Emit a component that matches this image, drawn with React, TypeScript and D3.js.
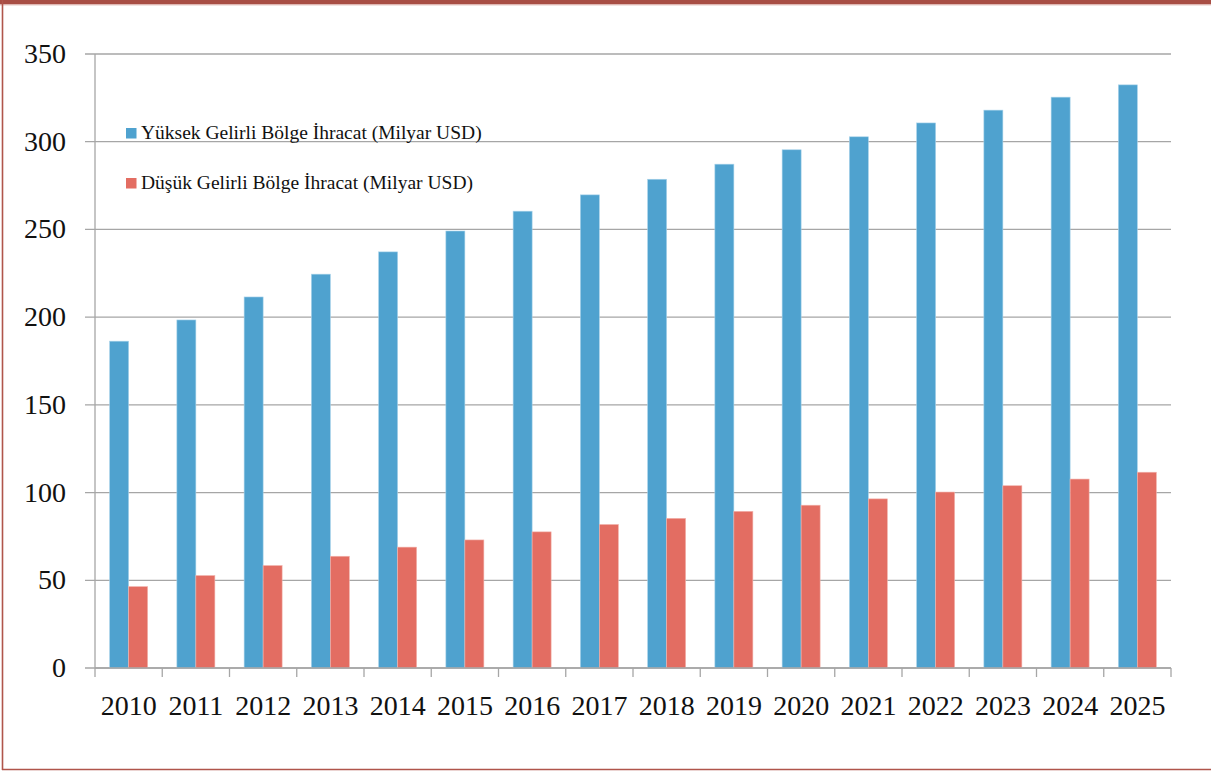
import React from "react";
import * as d3 from "d3";

const years = ["2010","2011","2012","2013","2014","2015","2016","2017","2018","2019","2020","2021","2022","2023","2024","2025"];
const highIncome = [186.3, 198.4, 211.5, 224.5, 237.2, 249.1, 260.4, 269.7, 278.6, 287.2, 295.4, 302.8, 310.7, 318.0, 325.4, 332.4];
const lowIncome = [46.4, 52.7, 58.4, 63.7, 68.9, 73.0, 77.6, 81.8, 85.3, 89.3, 92.8, 96.4, 100.3, 103.9, 107.7, 111.6];
const seriesNames = ["Yüksek Gelirli Bölge İhracat (Milyar USD)", "Düşük Gelirli Bölge İhracat (Milyar USD)"];
const yTicks = [0, 50, 100, 150, 200, 250, 300, 350];

const W = 1211, H = 771;
const colors = ["#4fa2cf", "#e36d62"];
const font = "'Liberation Serif', 'Times New Roman', serif";

export default function App() {
  const left = 95, right = 1171, top = 54, bottom = 668;
  const x = d3.scaleBand<string>().domain(years).range([left, right]).paddingInner(0).paddingOuter(0);
  const y = d3.scaleLinear().domain([0, 350]).range([bottom, top]);
  const barW = 19;
  const groupOffset = (x.bandwidth() - 2 * barW) / 2;
  const series = [highIncome, lowIncome];
  const tickXs = years.map((yr) => x(yr)!).concat([right]);

  return (
    <svg width={W} height={H} style={{ position: "absolute", left: 0, top: 0, background: "#fff" }} fontFamily={font}>
      <rect x={0} y={0} width={W} height={H} fill="#fff" />
      {/* frame */}
      <rect x={0} y={0} width={W} height={4.5} fill="#a84e45" />
      <line x1={0} x2={W} y1={5} y2={5} stroke="#e8c8c4" strokeWidth={1} />
      <line x1={2.5} x2={2.5} y1={0} y2={770} stroke="#b0554b" strokeWidth={1.6} />
      <line x1={2} x2={W} y1={769.5} y2={769.5} stroke="#b0554b" strokeWidth={1.6} />
      {/* gridlines */}
      {yTicks.map((t) => (
        <g key={t}>
          <line x1={left - 10} x2={right} y1={y(t)} y2={y(t)} stroke="#a6a6a6" strokeWidth={1.3} />
          <text x={66} y={y(t) + 9} textAnchor="end" fontSize={28} fill="#111">{t}</text>
        </g>
      ))}
      {/* y axis */}
      <line x1={left} x2={left} y1={top} y2={bottom} stroke="#a6a6a6" strokeWidth={1.3} />
      {/* bars */}
      {series.map((vals, si) =>
        vals.map((v, i) => (
          <rect
            key={`${si}-${i}`}
            x={x(years[i])! + groupOffset + si * barW}
            y={y(v)}
            width={barW}
            height={y(0) - y(v)}
            fill={colors[si]}
            stroke={si === 0 ? "#a9d3ea" : "#f2b3ac"}
            strokeWidth={0.6}
          />
        ))
      )}
      {/* x axis */}
      <line x1={left} x2={right} y1={bottom} y2={bottom} stroke="#a6a6a6" strokeWidth={1.3} />
      {tickXs.map((tx, i) => (
        <line key={i} x1={tx} x2={tx} y1={bottom} y2={bottom + 9} stroke="#a6a6a6" strokeWidth={1.3} />
      ))}
      {years.map((yr) => (
        <text key={yr} x={x(yr)! + x.bandwidth() / 2} y={715} textAnchor="middle" fontSize={28} fill="#111">{yr}</text>
      ))}
      {/* legend */}
      {seriesNames.map((name, i) => (
        <g key={name}>
          <rect x={126} y={128 + i * 50} width={10.5} height={10.5} fill={colors[i]} />
          <text x={141} y={139 + i * 50} fontSize={19.5} fill="#111">{name}</text>
        </g>
      ))}
    </svg>
  );
}
